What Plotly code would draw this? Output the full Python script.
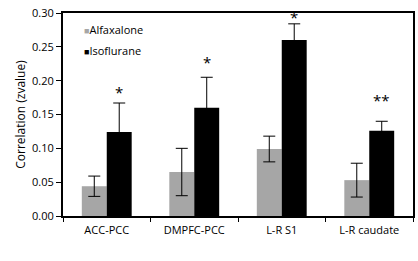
import plotly.graph_objects as go

categories = ["ACC-PCC", "DMPFC-PCC", "L-R S1", "L-R caudate"]
alfaxalone = [0.044, 0.065, 0.099, 0.053]
alfaxalone_err = [0.015, 0.035, 0.019, 0.025]
isoflurane = [0.124, 0.160, 0.260, 0.126]
isoflurane_err = [0.043, 0.045, 0.024, 0.014]
significance = ["*", "*", "*", "**"]
significance_y = [0.183, 0.227, 0.294, 0.171]
y_ticks = [0.00, 0.05, 0.10, 0.15, 0.20, 0.25, 0.30]
series_names = ["Alfaxalone", "Isoflurane"]
series_colors = ["#a6a6a6", "#000000"]

font = "Open Sans"

fig = go.Figure()
for name, vals, errs, col in zip(series_names, [alfaxalone, isoflurane],
                                 [alfaxalone_err, isoflurane_err], series_colors):
    fig.add_trace(go.Bar(
        x=categories, y=vals, name=name,
        marker=dict(color=col, line=dict(width=0)),
        error_y=dict(type="data", array=errs, color="black", thickness=1, width=6),
        showlegend=False,
    ))

for c, sy, s in zip(categories, significance_y, significance):
    fig.add_annotation(x=c, y=sy, text=s, showarrow=False, xref="x", yref="y",
                       yanchor="middle", xshift=12.5, yshift=0,
                       font=dict(family=font, size=15, color="black"))

# legend drawn as text entries inside the plot area
for i, (name, col) in enumerate(zip(series_names, series_colors)):
    fig.add_annotation(x=0.055, y=0.92 - i * 0.105, xref="paper", yref="paper",
                       xanchor="left", yanchor="middle", showarrow=False,
                       text=f"<span style='color:{col};font-size:9px'>■</span>{name}",
                       font=dict(family=font, size=11, color="black"))

fig.update_layout(
    width=418, height=261,
    margin=dict(l=63, r=5, t=13, b=45),
    paper_bgcolor="white", plot_bgcolor="white",
    barmode="group", bargap=0.43, bargroupgap=0,
    font=dict(family=font, size=11, color="black"),
    showlegend=False, hovermode=False,
    xaxis=dict(type="category", tickson="boundaries", ticks="outside", ticklen=4,
               tickcolor="black", showline=True, linecolor="black", linewidth=2,
               mirror=True, showgrid=False, tickfont=dict(size=11), automargin=False,
               ticklabelstandoff=3),
    yaxis=dict(range=[0, 0.30], tickvals=y_ticks, tickformat=".2f", ticks="outside",
               ticklen=5, tickcolor="black", showline=True, linecolor="black", linewidth=2,
               mirror=True, showgrid=False, zeroline=False, automargin=False,
               ticklabeloverflow="allow",
               title=dict(text="Correlation (zvalue)", font=dict(size=12), standoff=4),
               tickfont=dict(size=11)),
)

fig.write_html("out.html", config={"displayModeBar": False},
               post_script="document.body.style.margin='0';")
